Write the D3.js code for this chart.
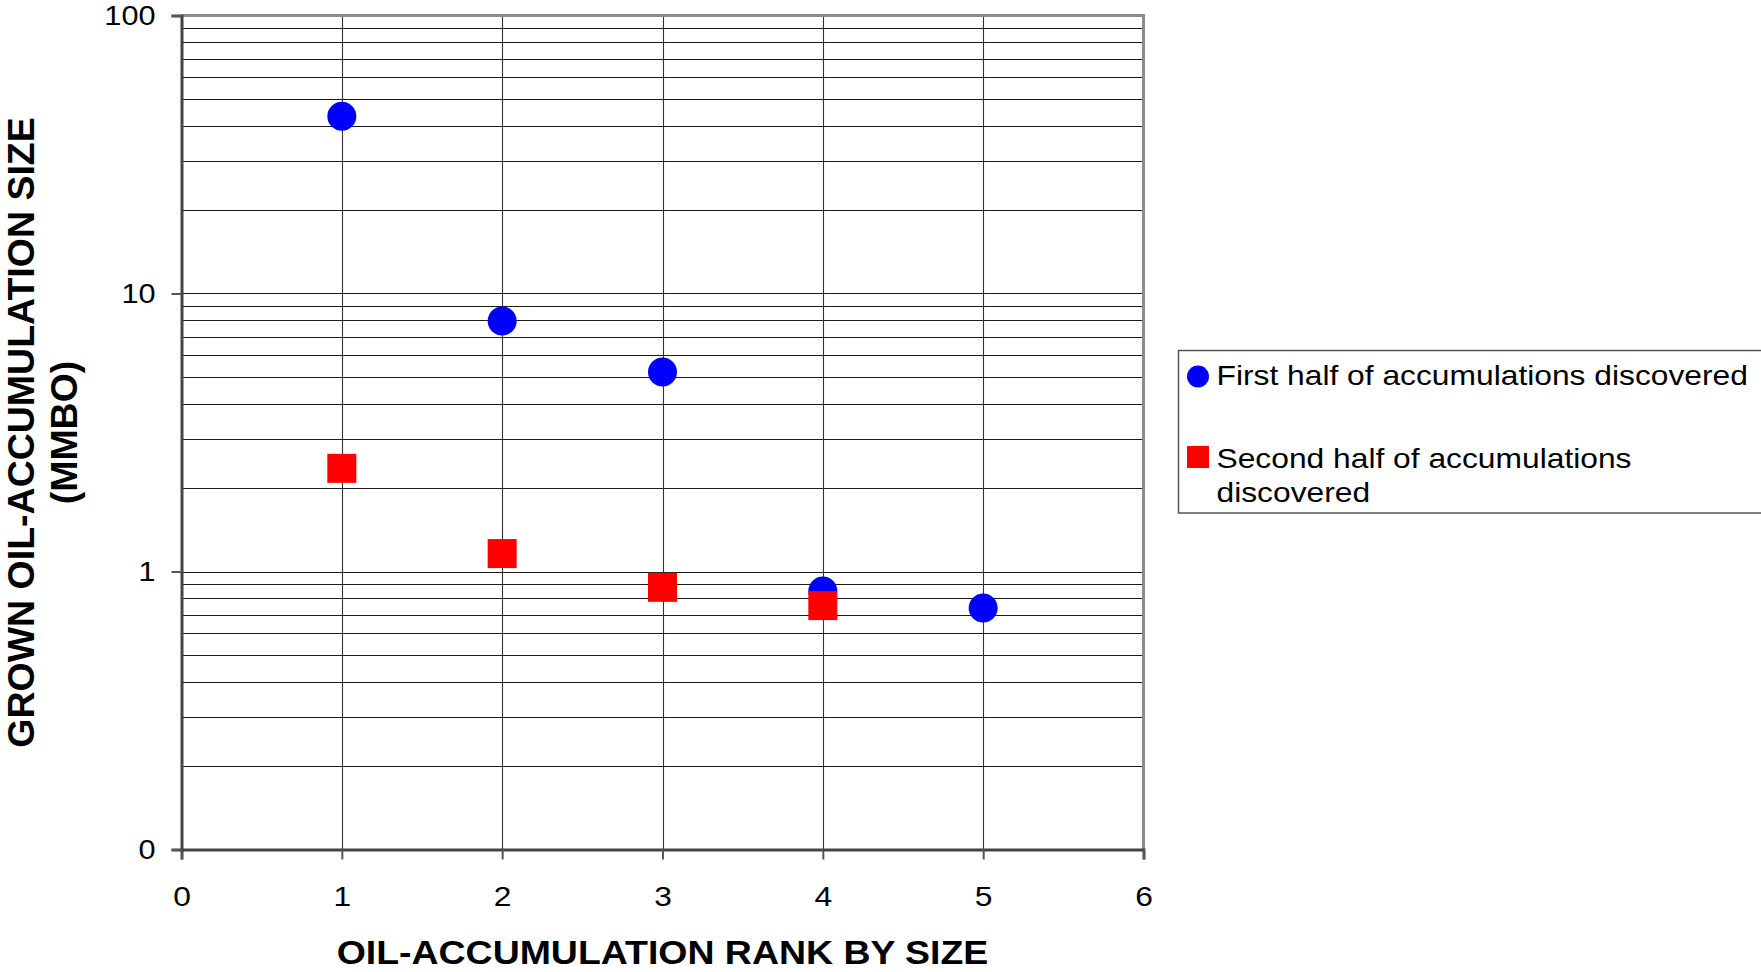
<!DOCTYPE html>
<html>
<head>
<meta charset="utf-8">
<script src="https://cdn.jsdelivr.net/npm/d3@7"></script>
<style>
  html, body { margin: 0; padding: 0; background: #fff; }
  svg { display: block; }
  text { font-family: "Liberation Sans", Arial, sans-serif; fill: #000; }
</style>
</head>
<body>
<svg id="chart" width="1761" height="972"></svg>
<script>
// ---- data ----
const ranks = [1, 2, 3, 4, 5];
const firstHalf = [43.4, 7.96, 5.22, 0.85, 0.739];
const secondRanks = [1, 2, 3, 4];
const secondHalf = [2.35, 1.16, 0.877, 0.754];
const xTicks = [0, 1, 2, 3, 4, 5, 6];
const yTickValues = [0.1, 1, 10, 100];
const yTickLabels = ["0", "1", "10", "100"];
const seriesNames = ["First half of accumulations discovered", "Second half of accumulations discovered"];
const xTitle = "OIL-ACCUMULATION RANK BY SIZE";
const yTitleLines = ["GROWN OIL-ACCUMULATION SIZE", "(MMBO)"];

const svg = d3.select("#chart");
const L = 181.5, R = 1143.5, T = 15.5, B = 849.5;
const SX = 1.135; // horizontal text stretch seen in the reference

const x = d3.scaleLinear().domain([0, 6]).range([L, R]);
const y = d3.scaleLog().domain([0.1, 100]).range([B, T]);

// minor + major horizontal gridlines
const gridVals = [];
[0.1, 1, 10].forEach(d => { for (let k = 1; k <= 9; k++) gridVals.push(d * k); });
svg.append("g").selectAll("line").data(gridVals.filter(v => v > 0.1 && v < 100)).join("line")
  .attr("x1", L).attr("x2", R)
  .attr("y1", d => Math.round(y(d)) + 0.5).attr("y2", d => Math.round(y(d)) + 0.5)
  .attr("stroke", "#1a1a1a").attr("stroke-width", 1.2);

// vertical gridlines
svg.append("g").selectAll("line").data(xTicks.filter(v => v > 0 && v < 6)).join("line")
  .attr("x1", d => Math.round(x(d)) + 0.5).attr("x2", d => Math.round(x(d)) + 0.5)
  .attr("y1", T).attr("y2", B)
  .attr("stroke", "#333").attr("stroke-width", 1.1);

// top and right border (gray)
svg.append("line").attr("x1", L).attr("x2", R + 1.5).attr("y1", T).attr("y2", T)
  .attr("stroke", "#8c8c8c").attr("stroke-width", 3);
svg.append("line").attr("x1", R).attr("x2", R).attr("y1", T).attr("y2", B)
  .attr("stroke", "#8c8c8c").attr("stroke-width", 3);

// axes
const xAxis = d3.axisBottom(x).tickValues(xTicks).tickSize(10).tickPadding(27).tickFormat(d3.format("d"));
const gx = svg.append("g").attr("transform", `translate(0,${B})`).call(xAxis);
gx.select(".domain").attr("stroke", "#444").attr("stroke-width", 3);
gx.selectAll(".tick line").attr("stroke", "#555").attr("stroke-width", 2);
gx.selectAll(".tick text").attr("font-size", 28).attr("font-family", "Liberation Sans, Arial, sans-serif")
  .attr("fill", "#000").attr("transform", `scale(${SX},1)`);

const yAxis = d3.axisLeft(y).tickValues(yTickValues).tickSize(10).tickPadding(16)
  .tickFormat((d, i) => yTickLabels[i]);
const gy = svg.append("g").attr("transform", `translate(${L},0)`).call(yAxis);
gy.select(".domain").attr("stroke", "#444").attr("stroke-width", 3);
gy.selectAll(".tick line").attr("stroke", "#555").attr("stroke-width", 2);
gy.selectAll(".tick text").attr("font-size", 27).attr("font-family", "Liberation Sans, Arial, sans-serif")
  .attr("fill", "#000").attr("x", -26 / SX).attr("transform", `scale(${SX},1)`);

// points
const r = 14.5, s = 29;
svg.append("g").selectAll("circle").data(ranks).join("circle")
  .attr("cx", d => x(d)).attr("cy", (d, i) => y(firstHalf[i])).attr("r", r)
  .attr("fill", "#0000ff");
svg.append("g").selectAll("rect").data(secondRanks).join("rect")
  .attr("x", d => x(d) - s / 2).attr("y", (d, i) => y(secondHalf[i]) - s / 2)
  .attr("width", s).attr("height", s).attr("fill", "#ff0000");

// axis titles
svg.append("text").attr("transform", `translate(${(L + R) / 2},963.5) scale(${SX},1)`)
  .attr("text-anchor", "middle").attr("font-size", 33).attr("font-weight", "bold").text(xTitle);

const yt = svg.append("text").attr("transform", `translate(0,${(T + B) / 2}) rotate(-90)`)
  .attr("text-anchor", "middle").attr("font-size", 37.5).attr("font-weight", "bold");
yt.append("tspan").attr("x", 0).attr("y", 33.5).text(yTitleLines[0]);
yt.append("tspan").attr("x", 0).attr("y", 76.5).text(yTitleLines[1]);

// legend
const lg = svg.append("g");
lg.append("rect").attr("x", 1178.5).attr("y", 350.5).attr("width", 620).attr("height", 162.5)
  .attr("fill", "#fff").attr("stroke", "#555").attr("stroke-width", 1.5);
lg.append("circle").attr("cx", 1198).attr("cy", 376.5).attr("r", 11).attr("fill", "#0000ff");
lg.append("text").attr("transform", `translate(1216.5,385) scale(${SX},1)`)
  .attr("font-size", 28).text(seriesNames[0]);
lg.append("rect").attr("x", 1187).attr("y", 446).attr("width", 22).attr("height", 22).attr("fill", "#ff0000");
lg.append("text").attr("transform", `translate(1216.5,467.5) scale(${SX},1)`)
  .attr("font-size", 28).text("Second half of accumulations");
lg.append("text").attr("transform", `translate(1216.5,502) scale(${SX},1)`)
  .attr("font-size", 28).text("discovered");
</script>
</body>
</html>
